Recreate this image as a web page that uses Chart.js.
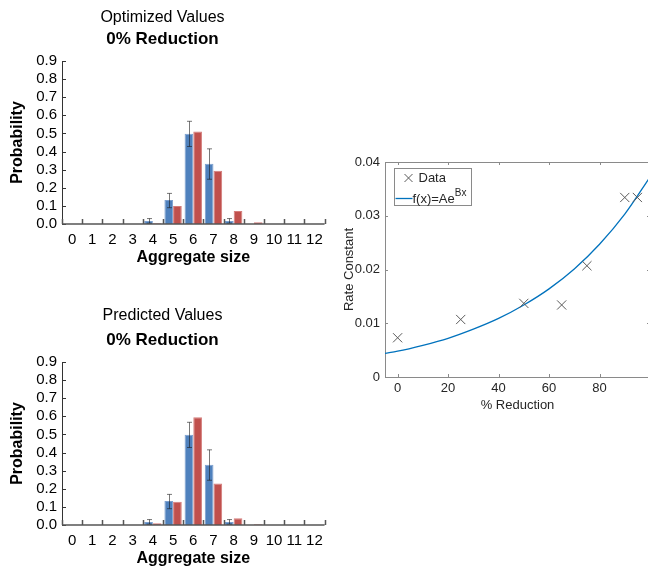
<!DOCTYPE html>
<html>
<head>
<meta charset="utf-8">
<script src="https://cdn.jsdelivr.net/npm/chart.js@4.4.1/dist/chart.umd.min.js"></script>
<style>
  html, body { margin: 0; padding: 0; background: #fff; overflow: hidden; width: 648px; height: 568px; }
  canvas { position: absolute; }
  #optimized { left: 0; top: 0; }
  #predicted { left: 0; top: 301px; }
  #rate { left: 330px; top: 140px; }
</style>
</head>
<body>
<canvas id="optimized" width="330" height="267"></canvas>
<canvas id="predicted" width="330" height="267"></canvas>
<canvas id="rate" width="330" height="280"></canvas>
<script>
// aggregate size distributions (0% reduction)
const sizes = ["0", "1", "2", "3", "4", "5", "6", "7", "8", "9", "10", "11", "12"];
const observed = [0, 0, 0, 0, 0.017, 0.132, 0.499, 0.332, 0.017, 0, 0, 0, 0];
const observedLow = [null, null, null, null, 0.004, 0.09, 0.428, 0.247, 0.004, null, null, null, null];
const observedHigh = [null, null, null, null, 0.03, 0.169, 0.567, 0.415, 0.03, null, null, null, null];
const optimized = [0, 0, 0, 0, 0.004, 0.1, 0.511, 0.294, 0.072, 0.009, 0, 0, 0];
const predicted = [0, 0, 0, 0, 0.009, 0.128, 0.595, 0.229, 0.037, 0.004, 0, 0, 0];
const probTicks = [0, 0.1, 0.2, 0.3, 0.4, 0.5, 0.6, 0.7, 0.8, 0.9];

// rate constant vs % reduction
const reduction = [0, 25, 50, 65, 75, 90, 95];
const rateConstant = [0.0073, 0.0107, 0.0137, 0.0134, 0.0207, 0.0334, 0.0334];
const fitReduction = [-5, 0, 10, 20, 30, 40, 50, 60, 70, 80, 90, 100];
const fitRate = [0.0044, 0.0048, 0.0059, 0.0072, 0.0089, 0.0109, 0.0134, 0.0164, 0.0201, 0.0247, 0.0303, 0.0372];
const reductionTicks = [0, 20, 40, 60, 80];
const rateTicks = [0, 0.01, 0.02, 0.03, 0.04];

Chart.defaults.font.family = "'Liberation Sans', Arial, sans-serif";

// error bars + excel-like axes with inside tick marks
const barAxes = {
  id: "barAxes",
  afterDatasetsDraw(chart) {
    const { ctx, chartArea: a, scales: { x, y } } = chart;
    ctx.save();
    ctx.lineWidth = 1;
    ctx.strokeStyle = "rgba(30,30,30,0.6)";
    chart.getDatasetMeta(0).data.forEach((bar, i) => {
      if (observedHigh[i] === null) return;
      const top = y.getPixelForValue(observedHigh[i]);
      const bot = y.getPixelForValue(observedLow[i]);
      const cx = Math.round(bar.x) + 0.5;
      ctx.beginPath();
      ctx.moveTo(cx, top); ctx.lineTo(cx, bot);
      ctx.moveTo(cx - 2.5, top); ctx.lineTo(cx + 2.5, top);
      ctx.moveTo(cx - 2.5, bot); ctx.lineTo(cx + 2.5, bot);
      ctx.stroke();
    });

    ctx.strokeStyle = "#333";
    ctx.beginPath();
    ctx.moveTo(a.left + 0.5, a.top); ctx.lineTo(a.left + 0.5, a.bottom);
    probTicks.forEach(v => {
      const py = Math.round(y.getPixelForValue(v)) + 0.5;
      ctx.moveTo(a.left, py); ctx.lineTo(a.left + 4, py);
    });
    ctx.stroke();

    ctx.strokeStyle = "#555";
    ctx.lineWidth = 1.5;
    ctx.beginPath();
    ctx.moveTo(a.left, a.bottom); ctx.lineTo(a.right, a.bottom);
    for (let k = 0; k <= sizes.length; k++) {
      const px = Math.round(x.getPixelForValue(k - 0.5)) + 0.5;
      ctx.moveTo(px, a.bottom); ctx.lineTo(px, a.bottom - 5);
    }
    ctx.stroke();
    ctx.restore();
  }
};

function probabilityChart(id, title, modelValues, titleTop) {
  return new Chart(document.getElementById(id), {
    type: "bar",
    data: {
      labels: sizes,
      datasets: [
        {
          label: "Observed", data: observed,
          backgroundColor: "#4f81bd", borderColor: "#7da0cf", borderWidth: 1,
          categoryPercentage: 0.86, barPercentage: 1
        },
        {
          label: "Model", data: modelValues,
          backgroundColor: "#c0504d", borderColor: "#d47d7b", borderWidth: 1,
          categoryPercentage: 0.86, barPercentage: 1
        }
      ]
    },
    options: {
      responsive: false,
      animation: false,
      devicePixelRatio: 1,
      layout: { padding: { left: 0, right: 5, top: 0, bottom: 0 } },
      plugins: {
        legend: { display: false },
        tooltip: { enabled: false },
        title: {
          display: true, text: title, color: "#000",
          font: { size: 16, weight: "normal" },
          padding: { top: titleTop, bottom: 9.6 - titleTop }
        },
        subtitle: {
          display: true, text: "0% Reduction", color: "#000",
          font: { size: 17, weight: "bold" },
          padding: { top: 0, bottom: 11.8 }
        }
      },
      scales: {
        x: {
          grid: { display: false, drawTicks: false },
          border: { display: false },
          ticks: { color: "#000", font: { size: 15 }, padding: 7, autoSkip: false, maxRotation: 0 },
          title: { display: true, text: "Aggregate size", color: "#000", font: { size: 16, weight: "bold" }, padding: { top: 0, bottom: 0 } },
          afterFit: s => { s.height = 43; }
        },
        y: {
          min: 0,
          max: 0.9,
          afterBuildTicks: s => { s.ticks = probTicks.map(v => ({ value: v })); },
          grid: { display: false, drawTicks: false },
          border: { display: false },
          ticks: { color: "#000", font: { size: 15 }, padding: 5, autoSkip: false, callback: v => v.toFixed(1) },
          title: { display: true, text: "Probability", color: "#000", font: { size: 16, weight: "bold" }, padding: { top: 8.4, bottom: 0 } },
          afterFit: s => { s.width = 62; }
        }
      }
    },
    plugins: [barAxes]
  });
}

probabilityChart("optimized", "Optimized Values", optimized, 8.4);
probabilityChart("predicted", "Predicted Values", predicted, 4.6);

// matlab-like box, inside ticks and legend
const matlabBox = {
  id: "matlabBox",
  beforeDatasetsDraw(chart) {
    const { ctx, chartArea: a, scales: { x, y } } = chart;
    ctx.save();
    ctx.strokeStyle = "#8a8a8a";
    ctx.lineWidth = 1;
    ctx.strokeRect(Math.round(a.left) + 0.5, Math.round(a.top) + 0.5, a.width, a.height);
    ctx.beginPath();
    reductionTicks.forEach(v => {
      const px = Math.round(x.getPixelForValue(v)) + 0.5;
      ctx.moveTo(px, a.bottom); ctx.lineTo(px, a.bottom - 3);
      ctx.moveTo(px, a.top); ctx.lineTo(px, a.top + 3);
    });
    rateTicks.forEach(v => {
      const py = Math.round(y.getPixelForValue(v)) + 0.5;
      ctx.moveTo(a.left, py); ctx.lineTo(a.left + 3, py);
      ctx.moveTo(a.right, py); ctx.lineTo(a.right - 3, py);
    });
    ctx.stroke();
    ctx.restore();
  },
  afterDatasetsDraw(chart) {
    const { ctx, chartArea: a } = chart;
    const bx = Math.round(a.left) + 9.5, by = Math.round(a.top) + 6.5;
    ctx.save();
    ctx.fillStyle = "#fff";
    ctx.fillRect(bx, by, 77, 37);
    ctx.strokeStyle = "#8a8a8a";
    ctx.lineWidth = 1;
    ctx.strokeRect(bx, by, 77, 37);

    ctx.strokeStyle = "#5a5a5a";
    ctx.beginPath();
    ctx.moveTo(bx + 10, by + 5.5); ctx.lineTo(bx + 18, by + 13.5);
    ctx.moveTo(bx + 18, by + 5.5); ctx.lineTo(bx + 10, by + 13.5);
    ctx.stroke();

    ctx.strokeStyle = "#0072bd";
    ctx.lineWidth = 1.3;
    ctx.beginPath();
    ctx.moveTo(bx + 1, by + 30); ctx.lineTo(bx + 18, by + 30);
    ctx.stroke();

    ctx.fillStyle = "#262626";
    ctx.textBaseline = "middle";
    ctx.font = "13px 'Liberation Sans', Arial, sans-serif";
    ctx.fillText("Data", bx + 24, by + 10);
    ctx.fillText("f(x)=Ae", bx + 18, by + 31);
    const w = ctx.measureText("f(x)=Ae").width;
    ctx.font = "10px 'Liberation Sans', Arial, sans-serif";
    ctx.fillText("Bx", bx + 18 + w, by + 25);
    ctx.restore();
  }
};

new Chart(document.getElementById("rate"), {
  type: "scatter",
  data: {
    datasets: [
      {
        label: "Data",
        data: reduction.map((r, i) => ({ x: r, y: rateConstant[i] })),
        pointStyle: "crossRot",
        pointRadius: 6.5,
        pointBorderColor: "#5a5a5a",
        pointBackgroundColor: "transparent",
        pointBorderWidth: 1
      },
      {
        label: "f(x)=Ae^Bx",
        data: fitReduction.map((r, i) => ({ x: r, y: fitRate[i] })),
        showLine: true,
        borderColor: "#0072bd",
        borderWidth: 1.3,
        pointRadius: 0,
        cubicInterpolationMode: "monotone",
        fill: false
      }
    ]
  },
  options: {
    responsive: false,
    animation: false,
    devicePixelRatio: 1,
    layout: { padding: { left: 0, right: 10, top: 22, bottom: 0 } },
    plugins: { legend: { display: false }, tooltip: { enabled: false } },
    scales: {
      x: {
        type: "linear",
        min: -5,
        max: 100,
        afterBuildTicks: s => { s.ticks = reductionTicks.map(v => ({ value: v })); },
        grid: { display: false, drawTicks: false },
        border: { display: false },
        ticks: { color: "#262626", font: { size: 13 }, padding: 4, callback: v => String(v) },
        title: { display: true, text: "% Reduction", color: "#262626", font: { size: 13 }, padding: { top: 0, bottom: 7 } },
        afterFit: s => { s.height = 43; }
      },
      y: {
        min: 0,
        max: 0.04,
        afterBuildTicks: s => { s.ticks = rateTicks.map(v => ({ value: v })); },
        grid: { display: false, drawTicks: false },
        border: { display: false },
        ticks: { color: "#262626", font: { size: 13 }, padding: 5, autoSkip: false, callback: v => String(v) },
        title: { display: true, text: "Rate Constant", color: "#262626", font: { size: 13 }, padding: { top: 12, bottom: 0 } },
        afterFit: s => { s.width = 55; }
      }
    }
  },
  plugins: [matlabBox]
});
</script>
</body>
</html>
